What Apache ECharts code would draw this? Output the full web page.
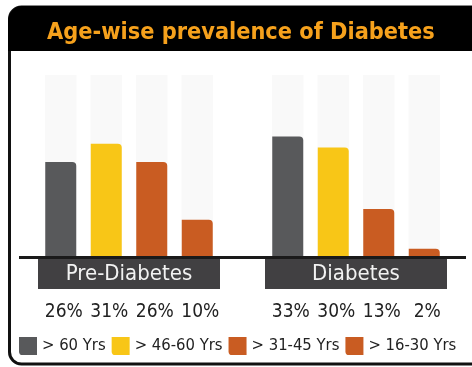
<!DOCTYPE html>
<html>
<head>
<meta charset="utf-8">
<script src="https://cdn.jsdelivr.net/npm/echarts@6/dist/echarts.min.js"></script>
<style>
  html, body { margin: 0; padding: 0; background: #fff; }
  #chart { width: 472px; height: 367px; }
</style>
</head>
<body>
<div id="chart"></div>
<script>
// values
const groups = ['Pre-Diabetes', 'Diabetes'];
const ageGroups = ['> 60 Yrs', '> 46-60 Yrs', '> 31-45 Yrs', '> 16-30 Yrs'];
const preDiabetes = [26, 31, 26, 10];
const diabetes = [33, 30, 13, 2];
const colors = ['#58595b', '#f8c617', '#c95c22', '#c95c22'];

const font = "'DejaVu Sans Condensed', 'DejaVu Sans', sans-serif";
const groupValues = [preDiabetes, diabetes];
const gridLefts = [38, 265];

let chart = echarts.init(document.getElementById('chart'));

let series = [];
groupValues.forEach(function (vals, g) {
  ageGroups.forEach(function (name, k) {
    series.push({
      name: name,
      type: 'bar',
      xAxisIndex: g,
      yAxisIndex: g,
      stack: 'grp' + g,
      barWidth: 31,
      data: vals.map(function (v, j) { return j === k ? v : '-'; }),
      showBackground: true,
      backgroundStyle: { color: '#f9f9f9' },
      itemStyle: {
        color: colors[k],
        borderRadius: [0, 4, 0, 0]
      }
    });
  });
});

chart.setOption({
  animation: false,
  color: colors,
  title: {
    text: 'Age-wise prevalence of Diabetes',
    left: 42,
    top: 16,
    textStyle: {
      color: '#f6a11c',
      fontFamily: font,
      fontWeight: 'bold',
      fontSize: 23.3
    }
  },
  graphic: [
    {
      type: 'rect',
      z: -10,
      shape: { x: 9.5, y: 7, width: 480, height: 357, r: 12 },
      style: { fill: '#fff', stroke: '#111', lineWidth: 3 }
    },
    {
      type: 'rect',
      z: -9,
      shape: { x: 8, y: 6, width: 480, height: 45, r: [15, 15, 0, 0] },
      style: { fill: '#000' }
    },
    {
      type: 'line',
      z: 10,
      shape: { x1: 19, y1: 257.5, x2: 466, y2: 257.5 },
      style: { stroke: '#1a1a1a', lineWidth: 3 }
    }
  ],
  legend: {
    data: ageGroups,
    left: 19,
    top: 337,
    padding: 0,
    width: 453,
    itemWidth: 18,
    itemHeight: 18,
    itemGap: 6,
    icon: 'path://M0,0 H10 V10 H2 Q0,10 0,8 Z',
    textStyle: { fontFamily: font, fontSize: 16.5, color: '#222' }
  },
  grid: gridLefts.map(function (l) {
    return { left: l, width: 182, top: 75, height: 181 };
  }),
  xAxis: groups.map(function (name, g) {
    return {
      type: 'category',
      gridIndex: g,
      data: ageGroups,
      axisLine: { show: false },
      axisTick: { show: false },
      axisLabel: {
        interval: 0,
        margin: 47,
        padding: [0, 0, 0, 6],
        fontFamily: font,
        fontSize: 19,
        color: '#222',
        formatter: function (v, i) { return groupValues[g][i] + '%'; }
      },
      name: '{box|' + name + '}',
      nameLocation: 'middle',
      nameGap: 3,
      nameMoveOverlap: false,
      nameTextStyle: {
        verticalAlign: 'top',
        rich: {
          box: {
            fontFamily: font,
            fontSize: 22,
            color: '#f2f2f2',
            backgroundColor: '#414042',
            width: 182,
            height: 30,
            lineHeight: 30,
            align: 'center'
          }
        }
      }
    };
  }),
  yAxis: groups.map(function (name, g) {
    return { type: 'value', gridIndex: g, min: 0, max: 50, show: false };
  }),
  series: series
});
</script>
</body>
</html>
